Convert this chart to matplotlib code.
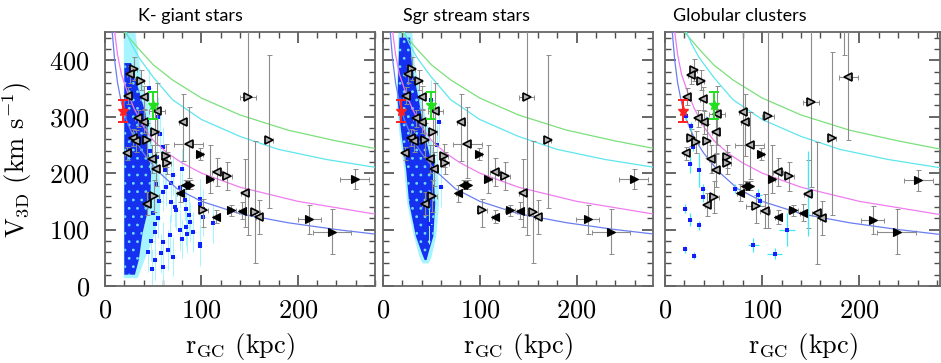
import matplotlib
matplotlib.use("Agg")
import matplotlib.pyplot as plt
import matplotlib.ticker as mt

plt.rcParams["font.family"] = ["cmr10", "DejaVu Serif"]
plt.rcParams["mathtext.fontset"] = "cm"
plt.rcParams["axes.unicode_minus"] = False
plt.rcParams["axes.formatter.use_mathtext"] = True
plt.rcParams["hatch.linewidth"] = 0.8

# ---- model curves ----
blue_r = [7.5, 10, 13, 17, 22, 30, 40, 55, 75, 100, 140, 190, 240, 285]
blue_v = [450, 400, 360, 325, 295, 262, 235, 203, 172, 150, 128, 112, 100, 91]
mag_r = [10, 13, 17, 23, 30, 40, 50, 65, 80, 100, 140, 200, 285]
mag_v = [450, 410, 375, 345, 315, 282, 258, 235, 218, 200, 175, 150, 126]
cyan_r = [22, 27, 35, 50, 70, 100, 140, 180, 230, 285]
cyan_v = [450, 430, 405, 370, 330, 295, 265, 242, 224, 209]
green_r = [20, 25, 35, 50, 70, 100, 140, 190, 240, 285]
green_v = [450, 440, 420, 392, 365, 333, 303, 276, 257, 242]

# ---- reference points (red / green stars) ----
red_r, red_v, red_lo, red_hi = 19, 310, 20, 20
grn_r, grn_v, grn_lo, grn_hi = 50, 320, 24, 23

# ---- satellites, panels 1 and 2 ----
sat_r = [29.7, 25.6, 37.6, 23.8, 40, 54, 80.5, 34.2, 40.4, 87, 51.5, 29, 32.4, 43.8,
         22.8, 49, 63.5, 64, 52.5, 99, 116, 126.4, 108.5, 83, 88, 78, 50.5, 43.5,
         102, 115.3, 131, 145, 141.6, 155.4, 160, 211.7, 235.5, 259, 148.5, 170]
sat_v = [385, 375, 363, 337, 334, 310, 291, 297, 291, 252, 272, 263, 257, 258,
         235, 225, 231, 218, 208, 234, 202, 195, 189, 179, 179, 164, 159, 146,
         134, 123, 134, 165, 133, 131.5, 121.5, 118, 96, 189, 335, 259]
sat_lo = [20, 15, 15, 15, 20, 60, 70, 15, 20, 60, 40, 15, 20, 30,
          12, 25, 20, 20, 30, 10, 25, 25, 25, 8, 8, 15, 28, 20,
          30, 12, 10, 60, 15, 91, 30, 25, 40, 18, 245, 120]
sat_hi = [20, 15, 20, 15, 20, 50, 50, 15, 20, 65, 40, 15, 20, 30,
          12, 25, 20, 20, 30, 10, 25, 25, 60, 8, 8, 15, 28, 20,
          20, 12, 10, 60, 15, 125, 30, 25, 40, 18, 200, 150]
sat_rerr = [3, 3, 3, 3, 3, 8, 4, 3, 3, 15, 4, 3, 3, 3,
            2, 3, 4, 4, 4, 3, 5, 5, 4, 0, 0, 3, 5, 3,
            5, 3, 5, 4, 3, 5, 3, 12, 20, 15, 8, 4]
sat_kind = ['>', '<', '>', '<', '<', '<', '<', '<', '<', '<', '>', '<', '<', '>',
            '<', '<', '>', '>', '<', 'R', '<', '>', 'R', 'L', 'R', 'L', '>', '<',
            '>', 'L', 'R', '<', 'L', '>', '<', 'R', 'R', 'R', '>', '>']

# ---- satellites, panel 3 ----
gsat_r = [29.5, 26.5, 37.5, 22.7, 39, 53.6, 79.8, 82, 106, 150, 188.7, 171.5, 34, 40.4,
          87.3, 52.3, 27.2, 32.4, 43.7, 22, 47.8, 64.3, 64.3, 52.3, 98.7, 116.5, 127.8,
          109.7, 82, 87, 77, 50.2, 43.7, 93.2, 102.8, 116.5, 132, 142.3, 146.8, 156,
          162, 213.8, 238.5, 260.8, 184]
gsat_v = [383, 373, 363, 335, 332, 305, 309, 291, 302, 326, 370, 263, 297, 290,
          249, 273, 263, 255, 257, 235, 225, 229, 218, 206, 234, 202, 194,
          189, 178, 178, 165, 158, 144, 142, 133.5, 122, 134, 129.5, 163.5, 129.5,
          120.6, 116.4, 96, 187, 490]
gsat_lo = [20, 15, 15, 15, 20, 55, 142, 60, 200, 150, 111, 137, 15, 20,
           60, 40, 15, 20, 30, 12, 25, 20, 20, 30, 10, 25, 25,
           25, 8, 8, 15, 28, 20, 30, 30, 12, 10, 15, 60, 91,
           30, 25, 40, 18, 80]
gsat_hi = [20, 15, 20, 15, 20, 50, 200, 50, 200, 200, 100, 151, 15, 20,
           60, 40, 15, 20, 30, 12, 25, 20, 20, 30, 10, 25, 25,
           60, 8, 8, 15, 28, 20, 20, 30, 12, 10, 15, 60, 125,
           30, 25, 40, 18, 0]
gsat_rerr = [3, 3, 3, 3, 3, 8, 4, 4, 6, 8, 10, 4, 3, 3,
             15, 4, 3, 3, 3, 2, 3, 4, 4, 4, 3, 5, 5,
             4, 0, 0, 3, 5, 3, 10, 5, 3, 5, 3, 4, 5,
             3, 12, 20, 15, 0]
gsat_kind = ['>', '<', '>', '<', '<', '<', '<', '<', '>', '>', '<', '>', '<', '<',
             '<', '<', '>', '>', '>', '<', '<', '>', '>', '<', 'R', '<', '>',
             'R', 'L', 'R', 'L', '>', '<', '>', '<', 'L', 'R', 'L', '<', '<',
             '<', 'R', 'R', 'R', '>']

# ---- globular clusters (panel 3) ----
gc_r = [21.3, 26.5, 42, 28.9, 26.2, 35.4, 38.9, 38.9, 72.5, 21, 25.8, 35.4, 96.2, 98,
        21, 30.3, 91, 112.8, 125.8, 146.8]
gc_v = [301.6, 283.4, 293, 247, 216, 206, 172, 157, 172.5, 136.5, 117.6, 107.6, 161.7, 150,
        64.7, 54, 72.3, 57, 100, 163.5]
gc_rerr = [2, 2, 2, 2, 2, 2, 2, 2, 3, 2, 2, 2, 4, 3, 2, 2, 6, 8, 8, 5]
gc_verr = [8, 8, 8, 8, 15, 30, 8, 8, 8, 8, 12, 8, 10, 8, 6, 6, 12, 10, 30, 75]

# ---- K giant cloud (dense core outline + sparse outliers) ----
kg_v = [395, 365, 306, 235, 211, 152, 94, 46, 20]
kg_left = [20, 20, 20, 20, 20, 20, 20, 20, 20]
kg_right = [27, 32, 42, 45, 48, 47, 39, 35, 31]
kg_halo_v = [455, 405, 365, 306, 235, 211, 152, 94, 46, 14]
kg_halo_left = [19.5, 19.5, 19.5, 19.5, 19.5, 19.5, 19.5, 19.5, 19.5, 19.5]
kg_halo_right = [31, 35, 38, 47, 50, 56, 58, 52, 41, 34]
kg_sp_r = [60.1, 68.7, 72.2, 82.6, 87, 88.4, 84.3, 67, 60, 98, 98, 77.4, 65.3, 60, 51.5,
           58.4, 80, 74, 68.7, 63.5, 77.4, 83.6, 98, 101.5, 91, 53.5, 60.4, 79.5, 70.8,
           101.9, 112.2, 70.8, 84.7, 98.4, 55, 57, 62, 55, 52, 56, 48, 50, 47, 53,
           45, 49, 52, 46]
kg_sp_v = [167, 149, 140, 152, 126, 114, 105, 90, 78, 75, 70, 99, 64, 34, 46,
           58, 84, 134, 182, 176, 173, 136, 155, 137, 96, 229, 246, 208, 196,
           122.7, 111, 52, 93, 146, 300, 270, 205, 120, 95, 150, 80, 130, 240,
           180, 60, 30, 110, 350]
kg_sp_verr = 35

# ---- Sgr stream cloud ----
sgr_v = [440, 390, 330, 270, 205, 147, 88, 59, 46]
sgr_left = [17, 16, 15, 19, 24, 27, 34, 40, 43]
sgr_right = [28, 30, 37, 43, 52, 54, 52, 47, 45]
sgr_halo_v = [455, 390, 330, 270, 205, 147, 88, 50, 40]
sgr_halo_left = [16, 15, 14, 17, 22, 25, 32, 38, 41]
sgr_halo_right = [30, 33, 40, 48, 57, 58, 55, 50, 47]
sgr_sp_r = [58, 56, 52, 60, 50, 48]
sgr_sp_v = [290, 250, 215, 175, 330, 110]

titles = ["K- giant stars", "Sgr stream stars", "Globular clusters"]
W, H = 941, 363
axes_px = [(105, 375), (383, 653), (665, 940)]
xmax = [280, 279, 283]
top_px, bot_px = 32, 286
title_x = [138, 403, 673]

BLUE = "#1a3cf0"
CYAN = "#a6f4ff"
GRAY_ERR = "0.55"


def draw_curves(ax):
    ax.plot(green_r, green_v, color="#7be07b", lw=0.9, zorder=3)
    ax.plot(cyan_r, cyan_v, color="#5ee6ee", lw=0.9, zorder=3)
    ax.plot(mag_r, mag_v, color="#f07cf0", lw=0.9, zorder=3)
    ax.plot(blue_r, blue_v, color="#6a7ef0", lw=0.9, zorder=3)


def draw_sats(ax, r, v, lo, hi, rerr, kind):
    ax.errorbar(r, v, yerr=[lo, hi], xerr=rerr, fmt="none", ecolor=GRAY_ERR,
                elinewidth=0.8, capsize=1.8, capthick=0.7, zorder=4)
    for ri, vi, k in zip(r, v, kind):
        if k in "<>":
            ax.plot(ri, vi, marker=k, ms=5.6, mfc="0.7", mec="k", mew=1.2, zorder=6)
        else:
            m = ">" if k == "R" else "<"
            ax.plot(ri, vi, marker=m, ms=5.8, mfc="k", mec="k", mew=0.8, zorder=6)


def draw_refs(ax):
    ax.errorbar(red_r, red_v, yerr=[[red_lo], [red_hi]], fmt="*", color="#ff2020",
                ms=7, elinewidth=1.4, capsize=3.5, capthick=1.4, zorder=7)
    ax.errorbar(grn_r, grn_v, yerr=[[grn_lo], [grn_hi]], fmt="*", color="#20e020",
                ms=7, elinewidth=1.4, capsize=3.5, capthick=1.4, zorder=7)


def draw_cloud(ax, hv, hl, hr, cv, cl, cr, spr, spv):
    ax.fill_betweenx(hv, hl, hr, facecolor=CYAN, edgecolor="none", zorder=1)
    ax.fill_betweenx(cv, cl, cr, facecolor="#1530ee", edgecolor="#70d8ff", hatch="..",
                     lw=0, zorder=2)
    ax.errorbar(spr, spv, yerr=kg_sp_verr, xerr=3, fmt="s", ms=2.2, color="#1020ff",
                mew=0, ecolor=CYAN, elinewidth=0.7, zorder=2)


def style_axes(ax, xm, ylabels):
    ax.set_xlim(0, xm)
    ax.set_ylim(0, 450)
    ax.xaxis.set_major_locator(mt.MultipleLocator(100))
    ax.xaxis.set_minor_locator(mt.MultipleLocator(20))
    ax.yaxis.set_major_locator(mt.MultipleLocator(100))
    ax.yaxis.set_minor_locator(mt.MultipleLocator(20))
    ax.tick_params(which="both", direction="in", top=True, right=True, color="0.3")
    ax.tick_params(which="major", length=8, width=1.2, labelsize=19)
    ax.tick_params(which="minor", length=4.5, width=1.0)
    ax.tick_params(axis="x", which="major", pad=9)
    ax.tick_params(axis="y", which="major", pad=11)
    if not ylabels:
        ax.set_yticklabels([])
    for s in ax.spines.values():
        s.set_color("0.4")
        s.set_linewidth(1.3)


fig = plt.figure(figsize=(W / 100, H / 100), dpi=100)
axs = []
for (l, r), xm in zip(axes_px, xmax):
    ax = fig.add_axes([l / W, 1 - bot_px / H, (r - l) / W, (bot_px - top_px) / H])
    axs.append(ax)

# panel 1: K giants
ax = axs[0]
draw_cloud(ax, kg_halo_v, kg_halo_left, kg_halo_right, kg_v, kg_left, kg_right,
           kg_sp_r, kg_sp_v)
draw_curves(ax)
draw_sats(ax, sat_r, sat_v, sat_lo, sat_hi, sat_rerr, sat_kind)
draw_refs(ax)

# panel 2: Sgr stream
ax = axs[1]
draw_cloud(ax, sgr_halo_v, sgr_halo_left, sgr_halo_right, sgr_v, sgr_left, sgr_right,
           sgr_sp_r, sgr_sp_v)
draw_curves(ax)
draw_sats(ax, sat_r, sat_v, sat_lo, sat_hi, sat_rerr, sat_kind)
draw_refs(ax)

# panel 3: globular clusters
ax = axs[2]
draw_curves(ax)
ax.errorbar(gc_r, gc_v, yerr=gc_verr, xerr=gc_rerr, fmt="s", ms=3.2, color="#1a1aff",
            mew=0, ecolor="#40e8f0", elinewidth=0.9, zorder=5)
draw_sats(ax, gsat_r, gsat_v, gsat_lo, gsat_hi, gsat_rerr, gsat_kind)
draw_refs(ax)

for i, ax in enumerate(axs):
    style_axes(ax, xmax[i], i == 0)
    l, r = axes_px[i]
    fig.text((l + r) / 2 / W, 1 - 346 / H, r"r$_{\rm GC}$ (kpc)", ha="center",
             va="center", fontsize=19)
    fig.text(title_x[i] / W, 1 - 16 / H, titles[i], ha="left", va="center",
             fontsize=13, family=["Lato", "DejaVu Sans"])

fig.text(17 / W, 1 - 160 / H, r"V$_{\rm 3D}$ (km s$^{-1}$)", rotation=90,
         ha="center", va="center", fontsize=19)

fig.savefig("out.png", dpi=100)
